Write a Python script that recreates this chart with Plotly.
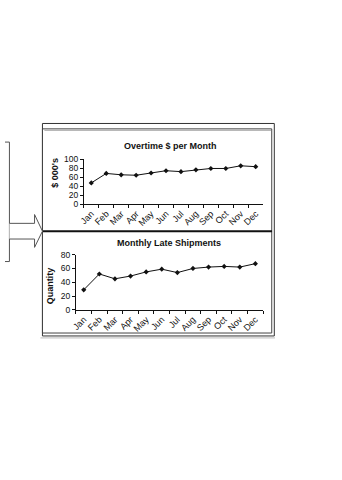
import plotly.graph_objects as go

W, H = 342, 480

months = ["Jan", "Feb", "Mar", "Apr", "May", "Jun",
          "Jul", "Aug", "Sep", "Oct", "Nov", "Dec"]
overtime_k = [47, 68, 65, 64, 69, 74, 72, 76, 79, 79, 85, 83]
late_shipments = [29, 52, 45, 49, 55, 59, 54, 60, 62, 63, 62, 67]

overtime_ticks = [0, 20, 40, 60, 80, 100]
shipment_ticks = [0, 20, 40, 60, 80]


def px(x):
    return x / W


def py(y):
    return 1 - y / H


TXT = "Liberation Sans"

fig = go.Figure()

line_style = dict(color="#111111", width=1)
marker_style = dict(symbol="diamond", size=4, color="#111111")

fig.add_trace(go.Scatter(x=months, y=overtime_k, mode="lines+markers",
                         line=line_style, marker=marker_style,
                         xaxis="x", yaxis="y", showlegend=False))
fig.add_trace(go.Scatter(x=months, y=late_shipments, mode="lines+markers",
                         line=line_style, marker=marker_style,
                         xaxis="x2", yaxis="y2", showlegend=False))

common_x = dict(type="category", range=[-0.5, 11.5], showline=True,
                linecolor="#111111", linewidth=1, ticks="outside",
                tickson="boundaries", ticklen=3, tickcolor="#111111",
                tickangle=-45, showgrid=False, zeroline=False,
                tickfont=dict(family=TXT, size=9, color="#111111"))
common_y = dict(showline=True, linecolor="#111111", linewidth=1,
                ticks="outside", ticklen=3, tickcolor="#111111",
                showgrid=False, zeroline=False,
                tickfont=dict(family=TXT, size=8.5, color="#111111"))

fig.update_layout(
    width=W, height=H, autosize=False,
    margin=dict(l=0, r=0, t=0, b=0),
    paper_bgcolor="white", plot_bgcolor="white",
    xaxis=dict(common_x, domain=[px(80), px(262)], anchor="y"),
    yaxis=dict(common_y, domain=[py(203.3), py(157.3)], range=[0, 100],
               tickvals=overtime_ticks, anchor="x"),
    xaxis2=dict(common_x, domain=[px(72), px(262)], anchor="y2"),
    yaxis2=dict(common_y, domain=[py(311.3), py(255)], range=[0, 80],
                tickvals=shipment_ticks, anchor="x2"),
)


def label(x, y, text, angle=0):
    fig.add_annotation(x=px(x), y=py(y), xref="paper", yref="paper",
                       xanchor="center", yanchor="middle",
                       text=text, showarrow=False, textangle=angle,
                       font=dict(family=TXT, size=9, color="#111111"))


# Chart titles and axis titles
label(168, 144, "<b>Overtime $ per Month</b>")
label(166.5, 243.5, "<b>Monthly Late Shipments</b>")
label(51, 171, "<b>$ 000's</b>", -90)
label(46, 287, "<b>Quantity</b>", -90)

shapes = []
# outer frame
shapes.append(dict(type="rect", xref="paper", yref="paper",
                   x0=px(38), x1=px(273.3), y0=py(338), y1=py(121),
                   line=dict(color="#333333", width=1)))
# inner frame
shapes.append(dict(type="rect", xref="paper", yref="paper",
                   x0=px(38), x1=px(270.7), y0=py(335), y1=py(126.5),
                   line=dict(color="#444444", width=1)))
shapes.append(dict(type="line", xref="paper", yref="paper",
                   x0=px(40), x1=px(270), y0=py(128), y1=py(128),
                   line=dict(color="#aaaaaa", width=1)))
shapes.append(dict(type="line", xref="paper", yref="paper",
                   x0=px(36), x1=px(274), y0=py(340), y1=py(340),
                   line=dict(color="#bbbbbb", width=1)))
# divider between panels
shapes.append(dict(type="line", xref="paper", yref="paper",
                   x0=px(38), x1=px(271), y0=py(231), y1=py(231),
                   line=dict(color="#111111", width=2)))
# partial box on the left edge
shapes.append(dict(type="path", xref="paper", yref="paper",
                   path=f"M 0 {py(140)} L {px(4.5)} {py(140)} "
                        f"L {px(4.5)} {py(262)} L 0 {py(262)}",
                   line=dict(color="#555555", width=1)))
# hollow arrow into the panels
arrow_pts = [(4.5, 223), (30, 223), (30, 214), (38, 231),
             (30, 247.5), (30, 239), (4.5, 239)]
path = "M " + " L ".join(f"{px(a)} {py(b)}" for a, b in arrow_pts)
shapes.append(dict(type="path", xref="paper", yref="paper", path=path,
                   fillcolor="white", line=dict(color="#555555", width=1)))

fig.update_layout(shapes=shapes)

fig.write_html("out.html")
